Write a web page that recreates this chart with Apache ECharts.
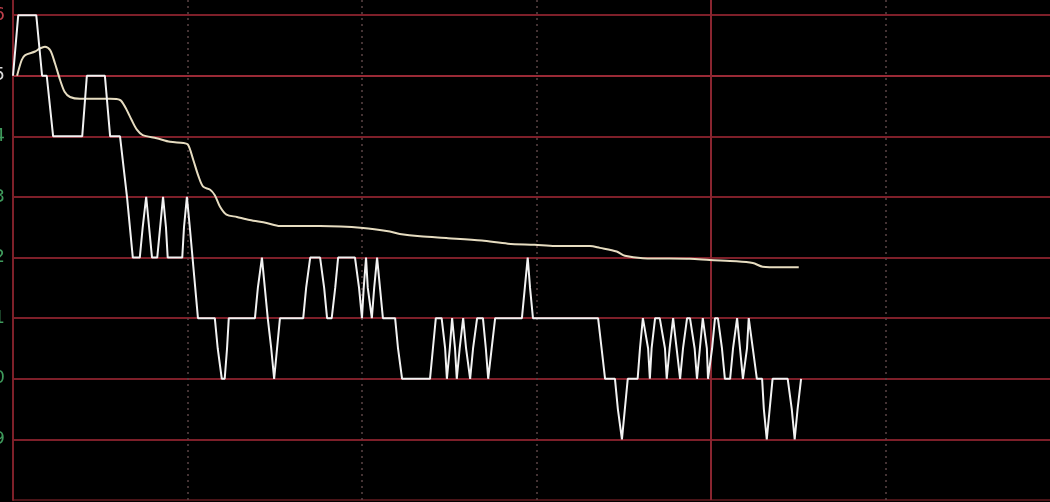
<!DOCTYPE html>
<html>
<head>
<meta charset="utf-8">
<script src="https://cdn.jsdelivr.net/npm/echarts@6/dist/echarts.min.js"></script>
<style>
html,body{margin:0;padding:0;background:#000;}
#chart{width:1050px;height:502px;}
</style>
</head>
<body>
<div id="chart"></div>
<script>
// ---- data (minutes since open, price) ----
const prevClose = 3.15;
const priceTicks = [3.09, 3.10, 3.11, 3.12, 3.13, 3.14, 3.15, 3.16];

const priceTimes = [
  0, 0.9, 4.0, 5.0, 5.8, 6.9, 11.9, 12.7, 15.8, 16.7, 18.4, 19.6, 20.6, 21.8,
  22.3, 22.9, 23.4, 23.9, 24.8, 25.3, 25.8, 26.3, 26.6, 29.1, 29.4, 29.9, 30.4,
  31.8, 34.7, 35.2, 35.9, 36.4, 36.8, 37.1, 41.6, 42.1, 42.8, 43.3, 43.8, 44.4,
  44.9, 45.4, 45.9, 49.9, 50.4, 51.1, 52.8, 53.5, 54.0, 54.8, 55.4, 55.9, 58.8,
  59.5, 60.0, 60.3, 60.7, 61.0, 61.7, 62.1, 62.6, 63.1, 63.6, 65.7, 66.2, 66.9,
  71.7, 72.2, 72.7, 73.7, 74.3, 74.6, 75.1, 75.5, 76.0, 76.3, 76.8, 77.4, 77.9,
  78.6, 79.1, 79.8, 80.8, 81.3, 81.7, 82.3, 82.9, 87.5, 88.0, 88.5, 88.9, 89.4,
  100.6, 101.2, 101.8, 103.5, 104.0, 104.7, 105.2, 105.7, 107.4, 107.8, 108.3,
  109.2, 109.5, 109.8, 110.4, 111.2, 112.1, 112.4, 112.9, 113.5, 114.1, 114.7,
  115.2, 115.9, 116.4, 117.2, 117.6, 118.1, 118.6, 119.3, 119.5, 120.2, 120.7,
  121.2, 121.9, 122.4, 123.3, 123.8, 124.5, 125.0, 125.5, 126.2, 126.5, 127.2,
  127.9, 128.8, 129.1, 129.6, 130.1, 130.6, 133.2, 133.9, 134.4, 134.9, 135.5
];
const prices = [
  3.15, 3.16, 3.16, 3.15, 3.15, 3.14, 3.14, 3.15, 3.15, 3.14, 3.14, 3.13, 3.12, 3.12,
  3.125, 3.13, 3.125, 3.12, 3.12, 3.125, 3.13, 3.125, 3.12, 3.12, 3.125, 3.13, 3.125,
  3.11, 3.11, 3.105, 3.10, 3.10, 3.105, 3.11, 3.11, 3.115, 3.12, 3.115, 3.11, 3.105,
  3.10, 3.105, 3.11, 3.11, 3.115, 3.12, 3.12, 3.115, 3.11, 3.11, 3.115, 3.12, 3.12,
  3.115, 3.11, 3.115, 3.12, 3.115, 3.11, 3.115, 3.12, 3.115, 3.11, 3.11, 3.105, 3.10,
  3.10, 3.105, 3.11, 3.11, 3.105, 3.10, 3.105, 3.11, 3.105, 3.10, 3.105, 3.11, 3.105,
  3.10, 3.105, 3.11, 3.11, 3.105, 3.10, 3.105, 3.11, 3.11, 3.115, 3.12, 3.115, 3.11,
  3.11, 3.105, 3.10, 3.10, 3.095, 3.09, 3.095, 3.10, 3.10, 3.105, 3.11,
  3.105, 3.10, 3.105, 3.11, 3.11, 3.105, 3.10, 3.105, 3.11, 3.105, 3.10,
  3.105, 3.11, 3.11, 3.105, 3.10, 3.105, 3.11, 3.105, 3.10, 3.105, 3.11,
  3.11, 3.105, 3.10, 3.10, 3.105, 3.11, 3.105, 3.10, 3.105, 3.11, 3.105,
  3.10, 3.10, 3.095, 3.09, 3.095, 3.10, 3.10, 3.095, 3.09, 3.095, 3.10
];

const avgTimes = [
  0.7, 1.5, 2.1, 3.8, 4.6, 5.5, 6.4, 7.2, 8.1, 8.9, 9.8, 11.5, 16.7, 18.4, 19.3,
  20.4, 21.3, 22.3, 24.7, 27.0, 29.3, 30.1, 31.0, 31.9, 32.7, 33.9, 34.7, 35.6,
  36.7, 38.5, 40.7, 43.6, 45.9, 52.8, 60.2, 64.8, 66.5, 70.0, 74.8, 80.6, 85.1,
  89.7, 93.2, 99.2, 100.9, 103.8, 105.2, 108.3, 116.4, 119.8, 124.4, 127.2,
  128.9, 131.9, 135.1
];
const avgPrices = [
  3.1500, 3.1526, 3.1534, 3.1540, 3.1545, 3.1548, 3.1542, 3.1521, 3.1493, 3.1473,
  3.1465, 3.1462, 3.1462, 3.1460, 3.1448, 3.1427, 3.1411, 3.1402, 3.1397, 3.1391,
  3.1389, 3.1386, 3.1361, 3.1334, 3.1317, 3.1312, 3.1303, 3.1284, 3.1271, 3.1267,
  3.1262, 3.1257, 3.1252, 3.1252, 3.1249, 3.1243, 3.1239, 3.1235, 3.1232, 3.1228,
  3.1223, 3.1221, 3.1219, 3.1219, 3.1216, 3.1210, 3.1203, 3.1199, 3.1198, 3.1196,
  3.1194, 3.1191, 3.1185, 3.1184, 3.1184
];

// ---- chart ----
const priceData = priceTimes.map((t, i) => [t, prices[i]]);
const avgData = avgTimes.map((t, i) => [t, avgPrices[i]]);

const gridRed = '#7d1f29';
const hLineColors = ['#4a1418', gridRed, gridRed, gridRed, gridRed, gridRed, gridRed, '#9a2a36', gridRed];

const chart = echarts.init(document.getElementById('chart'), null, {renderer: 'canvas'});
chart.setOption({
  backgroundColor: '#000000',
  animation: false,
  grid: {left: 13, right: 0, top: 0, bottom: 2, containLabel: false, outerBoundsMode: 'none'},
  xAxis: [{
    type: 'value', min: 0, max: 178.3, interval: 30,
    axisLine: {show: false}, axisTick: {show: false}, axisLabel: {show: false},
    splitLine: {show: true, showMinLine: false, showMaxLine: false,
      lineStyle: {color: '#5b4446', width: 1.5, type: [2, 4]}}
  }, {
    type: 'value', min: 0, max: 178.3, interval: 120,
    axisLine: {show: false}, axisTick: {show: false}, axisLabel: {show: false},
    splitLine: {show: true, showMinLine: false, showMaxLine: false,
      lineStyle: {color: '#8a2530', width: 2, type: 'solid'}}
  }],
  yAxis: {
    type: 'value', min: 3.08, max: 3.1625, interval: 0.01,
    axisLine: {show: true, lineStyle: {color: '#7d2029', width: 2}},
    axisTick: {show: false},
    splitLine: {show: true, showMaxLine: false,
      lineStyle: {color: hLineColors, width: 2}},
    axisLabel: {
      show: true, showMinLabel: false, showMaxLabel: false,
      margin: 8, fontSize: 18, fontFamily: 'DejaVu Sans',
      formatter: v => {
        const r = Math.round(v * 100) / 100;
        return priceTicks.some(p => Math.abs(p - r) < 1e-6) ? r.toFixed(2) : '';
      },
      color: v => {
        const r = Math.round(v * 100) / 100;
        if (r > prevClose + 1e-6) return '#c0404c';
        if (Math.abs(r - prevClose) < 1e-6) return '#d8d8d8';
        return '#3f9a5c';
      }
    }
  },
  series: [{
    name: '均价', type: 'line', xAxisIndex: 0, data: avgData,
    symbol: 'none', smooth: 0.3, z: 3,
    lineStyle: {color: '#e6dcc0', width: 2}
  }, {
    name: '价格', type: 'line', xAxisIndex: 0, data: priceData,
    symbol: 'none', smooth: false, z: 4,
    lineStyle: {color: '#f2f2f2', width: 2}
  }]
});
</script>
</body>
</html>
